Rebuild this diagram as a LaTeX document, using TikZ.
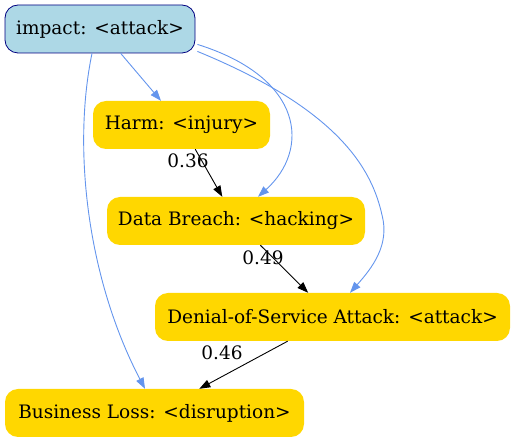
\documentclass[tikz,border=0pt]{standalone}
\usepackage{fontspec}
\setmainfont{DejaVu Serif}
\usetikzlibrary{arrows.meta}
\definecolor{lblue}{HTML}{ADD8E6}
\definecolor{navyc}{HTML}{000080}
\definecolor{goldc}{HTML}{FFD700}
\definecolor{cblue}{HTML}{6495ED}
\begin{document}
\begin{tikzpicture}[x=1pt,y=-1pt,
  every node/.style={font=\fontsize{18.5}{22}\selectfont},
  box/.style={rounded corners=13pt, minimum height=48pt, inner xsep=0pt, inner ysep=0pt, anchor=center},
  goldbox/.style={box, fill=goldc},
  bluebox/.style={box, fill=lblue, draw=navyc, line width=0.8pt},
  blueedge/.style={draw=cblue, line width=0.9pt, -{Triangle[length=11pt,width=8pt]}},
  blackedge/.style={draw=black, line width=0.9pt, -{Triangle[length=11pt,width=8pt]}},
  wlabel/.style={inner sep=0pt}]
\useasboundingbox (0,0) rectangle (515,443);
\node[bluebox, minimum width=190pt] (impact) at (100,29) {impact: <attack>};
\node[goldbox, minimum width=177pt] (harm) at (181.5,125) {Harm: <injury>};
\node[goldbox, minimum width=258pt] (db) at (236,221) {Data Breach: <hacking>};
\node[goldbox, minimum width=355pt] (dos) at (332.5,317) {Denial-of-Service Attack: <attack>};
\node[goldbox, minimum width=299pt] (bl) at (154.5,413) {Business Loss: <disruption>};

\coordinate (s1) at ([shift={(2pt,9pt)}]impact.south east);
\coordinate (s2) at ([shift={(2pt,2pt)}]impact.south east);
\coordinate (s3) at ([shift={(-8pt,0pt)}]impact.south);

\draw[blueedge] (impact) -- (harm);
\draw[blueedge] (s1) .. controls (305,78) and (310,150) .. (db.north east -| 258,0);
\draw[blueedge] (s2) .. controls (340,110) and (372,170) .. (382,215) .. controls (390,245) and (372,268) .. (dos.north -| 350,0);
\draw[blueedge] (s3) .. controls (72,150) and (88,280) .. (bl.north -| 145,0);

\draw[blackedge] (harm) -- (db);
\draw[blackedge] (db) -- (dos);
\draw[blackedge] (dos) -- (bl);

\node[wlabel] (l1) at (188,161) {0.36};
\node[wlabel] (l2) at (263,258) {0.49};
\node[wlabel] (l3) at (222,353) {0.46};
\end{tikzpicture}
\end{document}
